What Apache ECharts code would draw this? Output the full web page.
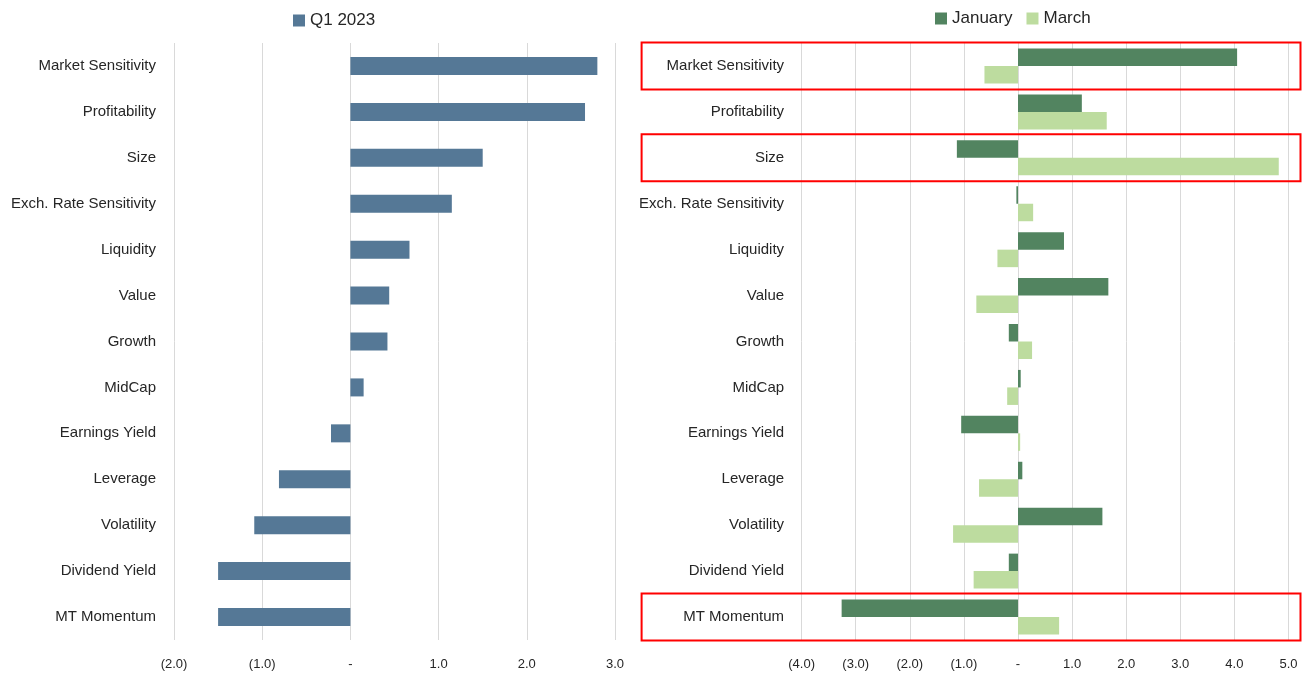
<!DOCTYPE html>
<html>
<head>
<meta charset="utf-8">
<title>Factor exposures</title>
<script src="https://cdn.jsdelivr.net/npm/echarts@6/dist/echarts.min.js"></script>
<style>
  html, body { margin: 0; padding: 0; background: #fff; }
  #chart { width: 1308px; height: 675px; }
</style>
</head>
<body>
<div id="chart"></div>
<script>
// factor names, top to bottom
const categories = [
  'Market Sensitivity', 'Profitability', 'Size', 'Exch. Rate Sensitivity',
  'Liquidity', 'Value', 'Growth', 'MidCap', 'Earnings Yield',
  'Leverage', 'Volatility', 'Dividend Yield', 'MT Momentum'
];

// left panel - quarter
const q1Values = [2.80, 2.66, 1.50, 1.15, 0.67, 0.44, 0.42, 0.15, -0.22, -0.81, -1.09, -1.50, -1.50];

// right panel - months
const janValues = [4.05, 1.18, -1.13, -0.03, 0.85, 1.67, -0.17, 0.05, -1.05, 0.08, 1.56, -0.17, -3.26];
const marValues = [-0.62, 1.64, 4.82, 0.28, -0.38, -0.77, 0.26, -0.20, 0.04, -0.72, -1.20, -0.82, 0.76];

// factors boxed in red on the right panel
const highlighted = ['Market Sensitivity', 'Size', 'MT Momentum'];

const FONT = "'Liberation Sans', Arial, sans-serif";
const TEXT = '#262626';
const GRID_LINE = '#d9d9d9';

// (2.0) / - / 1.0 style ticks
function tickLabel(v) {
  if (v === 0) return '-';
  if (v < 0) return '(' + Math.abs(v).toFixed(1) + ')';
  return v.toFixed(1);
}

function valueAxis(gridIndex, min, max) {
  return {
    type: 'value',
    gridIndex: gridIndex,
    min: min,
    max: max,
    interval: 1,
    axisLine: { show: false },
    axisTick: { show: false },
    splitLine: { lineStyle: { color: GRID_LINE, width: 1 } },
    axisLabel: {
      formatter: tickLabel,
      color: TEXT,
      fontFamily: FONT,
      fontSize: 13,
      margin: 18
    }
  };
}

function categoryAxis(gridIndex, margin) {
  return {
    type: 'category',
    gridIndex: gridIndex,
    data: categories,
    inverse: true,
    axisLine: { show: false },
    axisTick: { show: false },
    splitLine: { show: false },
    axisLabel: {
      color: TEXT,
      fontFamily: FONT,
      fontSize: 15,
      margin: margin
    }
  };
}

const chart = echarts.init(document.getElementById('chart'));

const legendText = { color: TEXT, fontFamily: FONT, fontSize: 17, lineHeight: 17 };

const option = {
  backgroundColor: '#ffffff',
  animation: false,
  legend: [
    {
      data: ['Q1 2023'],
      left: 293,
      top: 12,
      padding: 0,
      itemWidth: 12,
      itemHeight: 12,
      icon: 'rect',
      textStyle: legendText
    },
    {
      data: ['January', 'March'],
      left: 935,
      top: 10,
      padding: 0,
      itemWidth: 12,
      itemHeight: 12,
      itemGap: 14,
      icon: 'rect',
      textStyle: legendText
    }
  ],
  grid: [
    { left: 174, right: 693, top: 43, bottom: 35, containLabel: false, outerBoundsMode: 'none' },
    { left: 801.6, right: 19.5, top: 43, bottom: 35, containLabel: false, outerBoundsMode: 'none' }
  ],
  xAxis: [valueAxis(0, -2, 3), valueAxis(1, -4, 5)],
  yAxis: [categoryAxis(0, 18), categoryAxis(1, 17.5)],
  series: [
    {
      name: 'Q1 2023',
      type: 'bar',
      xAxisIndex: 0,
      yAxisIndex: 0,
      barWidth: 18,
      itemStyle: { color: '#557896' },
      data: q1Values
    },
    {
      name: 'January',
      type: 'bar',
      xAxisIndex: 1,
      yAxisIndex: 1,
      barWidth: 17.5,
      barGap: '0%',
      itemStyle: { color: '#528460' },
      data: janValues
    },
    {
      name: 'March',
      type: 'bar',
      xAxisIndex: 1,
      yAxisIndex: 1,
      barWidth: 17.5,
      barGap: '0%',
      itemStyle: { color: '#bddc9f' },
      data: marValues
    }
  ]
};

chart.setOption(option);

// red boxes round the highlighted rows, placed from the axes
function drawHighlights() {
  const band = (chart.convertToPixel({ yAxisIndex: 1 }, categories[1]) -
                chart.convertToPixel({ yAxisIndex: 1 }, categories[0]));
  const x0 = chart.convertToPixel({ xAxisIndex: 1 }, -4) - 160;
  const x1 = chart.convertToPixel({ xAxisIndex: 1 }, 5) + 12;
  const boxes = highlighted.map(name => {
    const cy = chart.convertToPixel({ yAxisIndex: 1 }, name);
    return {
      type: 'rect',
      shape: { x: x0, y: cy - band / 2 - 0.5, width: x1 - x0, height: band + 1 },
      style: { fill: 'none', stroke: '#ff0000', lineWidth: 2 },
      z: 10
    };
  });
  chart.setOption({ graphic: boxes });
}

drawHighlights();
</script>
</body>
</html>
